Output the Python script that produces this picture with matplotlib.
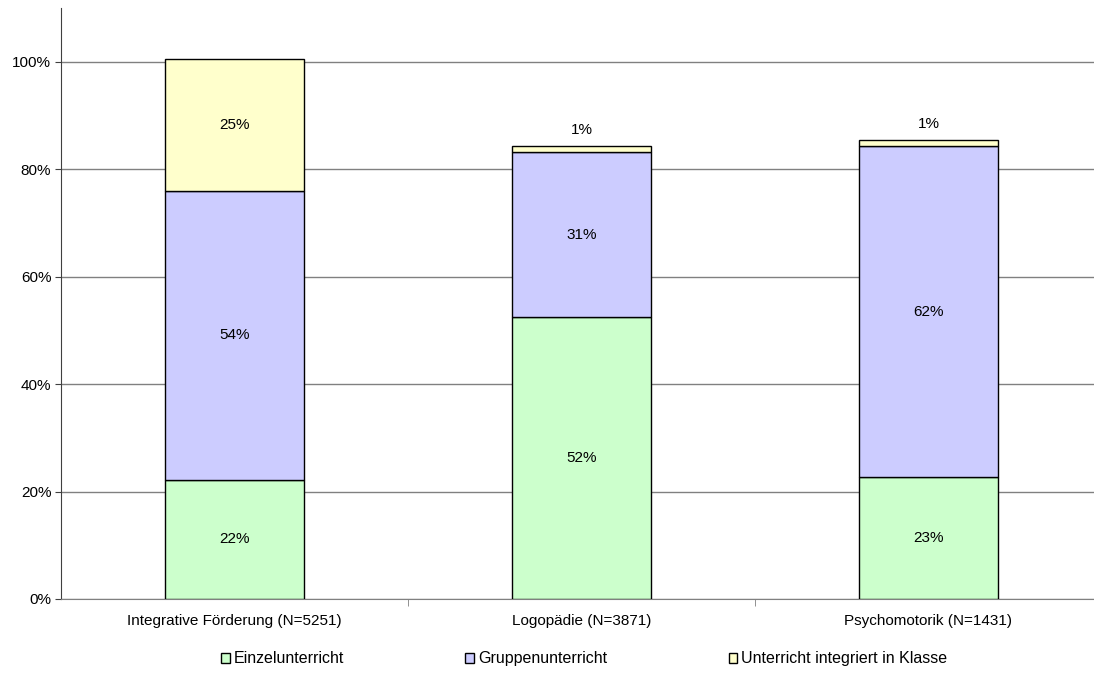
import numpy as np
import matplotlib.pyplot as plt
from matplotlib.patches import Patch

plt.rcParams['font.family'] = ['Liberation Sans', 'DejaVu Sans']

categories = ['Integrative Förderung (N=5251)', 'Logopädie (N=3871)', 'Psychomotorik (N=1431)']
series_names = ['Einzelunterricht', 'Gruppenunterricht', 'Unterricht integriert in Klasse']
einzel = [22.2, 52.4, 22.7]
gruppen = [53.8, 30.8, 61.6]
integriert = [24.6, 1.1, 1.2]
colors = ['#CCFFCC', '#CCCCFF', '#FFFFCC']

fig = plt.figure(figsize=(10.94, 6.73), dpi=100)
ax = fig.add_axes([61 / 1094, 74 / 673, 1041 / 1094, 591 / 673])

x = np.arange(len(categories))
bottom = np.zeros(len(categories))
for vals, col in zip([einzel, gruppen, integriert], colors):
    vals = np.array(vals)
    ax.bar(x, vals, bottom=bottom, width=0.4, color=col, edgecolor='black',
           linewidth=1, zorder=3)
    for xi, b, v in zip(x, bottom, vals):
        if v < 5:
            ypos = b + v + 3.0
        else:
            ypos = b + v / 2
        ax.text(xi, ypos, f'{round(v):.0f}%', ha='center', va='center', fontsize=11, zorder=4)
    bottom += vals

ax.set_xlim(-0.5, 2.5)
ax.set_ylim(0, 110)
ax.set_yticks(np.arange(0, 101, 20))
ax.set_yticklabels([f'{v}%' for v in range(0, 101, 20)])
ax.yaxis.grid(True, color='#808080', linewidth=1)
ax.set_axisbelow(True)

ax.set_xticks(x)
ax.set_xticklabels(categories)
ax.tick_params(axis='x', length=0, pad=11, labelsize=11)
ax.set_xticks([0.5, 1.5], minor=True)
ax.tick_params(axis='x', which='minor', length=5, color='#808080', direction='out')
ax.tick_params(axis='y', length=4, direction='out', labelsize=11, pad=3, color='#404040')

for s in ['top', 'right']:
    ax.spines[s].set_visible(False)
ax.spines['left'].set_color('#404040')
ax.spines['bottom'].set_color('#808080')

handles = [Patch(facecolor=c, edgecolor='black', linewidth=1) for c in colors]
fig.legend(handles, series_names, loc='center', bbox_to_anchor=(0.534, 0.021), ncol=3,
           frameon=False, fontsize=11.5, handlelength=0.55, handleheight=0.55,
           handletextpad=0.25, columnspacing=7.6)

fig.savefig('out.png', dpi=100)
